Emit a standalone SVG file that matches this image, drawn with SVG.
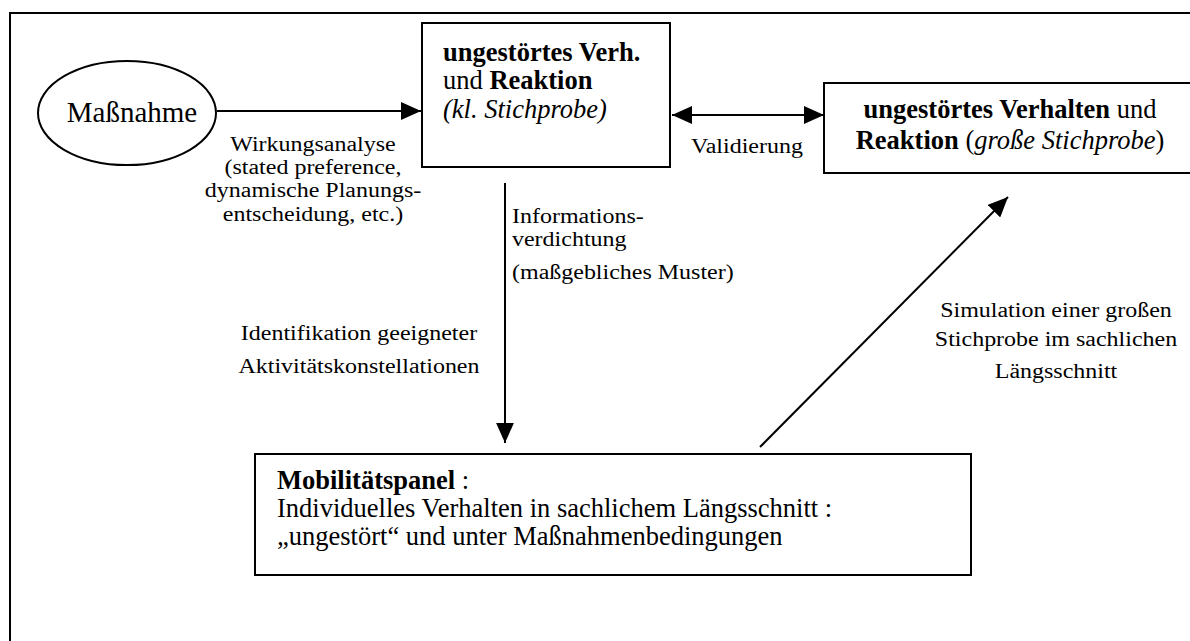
<svg xmlns="http://www.w3.org/2000/svg" width="1190" height="641" viewBox="0 0 1190 641">
<style>
text{font-family:"Liberation Serif","Times New Roman",serif;fill:#000}
.lbl{font-size:20.5px}
.box{font-size:26.5px}
.b{font-weight:bold}
.i{font-style:italic}
.shape{fill:#fff;stroke:#000;stroke-width:2}
.conn{stroke:#000;stroke-width:2;fill:none}
</style>
<defs>
<marker id="ah" markerUnits="userSpaceOnUse" markerWidth="20" markerHeight="18" refX="18" refY="8" orient="auto-start-reverse" viewBox="0 0 18 16">
<path d="M0,0 L18,8 L0,16 z" fill="#000"/>
</marker>
</defs>
<rect x="0" y="0" width="1190" height="641" fill="#fff"/>
<rect id="frame" x="10" y="13" width="1200" height="700" fill="none" stroke="#000" stroke-width="2"/>

<g id="connectors">
<line class="conn" x1="217" y1="111" x2="421" y2="111" marker-end="url(#ah)"/>
<line class="conn" x1="672" y1="115" x2="824" y2="115" marker-start="url(#ah)" marker-end="url(#ah)"/>
<line class="conn" x1="505" y1="183" x2="505" y2="443" marker-end="url(#ah)"/>
<line class="conn" x1="760" y1="447" x2="1008" y2="197" marker-end="url(#ah)"/>
</g>

<g id="node-massnahme">
<ellipse class="shape" cx="127" cy="113" rx="89" ry="52"/>
<text x="132" y="122" text-anchor="middle" style="font-size:29px">Maßnahme</text>
</g>

<g id="node-klein">
<rect class="shape" x="422" y="23" width="248" height="144"/>
<text class="box" x="443" y="61"><tspan class="b">ungestörtes Verh.</tspan></text>
<text class="box" x="443" y="89">und <tspan class="b">Reaktion</tspan></text>
<text class="box i" x="443" y="118">(kl. Stichprobe)</text>
</g>

<g id="node-gross">
<rect class="shape" x="824" y="83" width="400" height="90"/>
<text class="box" x="1010" y="118" text-anchor="middle"><tspan class="b">ungestörtes Verhalten</tspan> und</text>
<text class="box" x="1010" y="149" text-anchor="middle"><tspan class="b">Reaktion</tspan> (<tspan class="i">große Stichprobe</tspan>)</text>
</g>

<g id="node-panel">
<rect class="shape" x="255" y="454" width="716" height="121"/>
<text class="box" x="277" y="489"><tspan class="b">Mobilitätspanel</tspan> :</text>
<text class="box" x="277" y="517">Individuelles Verhalten in sachlichem Längsschnitt :</text>
<text class="box" x="277" y="545">„ungestört“ und unter Maßnahmenbedingungen</text>
</g>

<g id="labels">
<g transform="translate(313,0) scale(1.17,1)">
<text class="lbl" text-anchor="middle"><tspan x="0" y="151">Wirkungsanalyse</tspan><tspan x="0" y="174">(stated preference,</tspan><tspan x="0" y="197">dynamische Planungs-</tspan><tspan x="0" y="221">entscheidung, etc.)</tspan></text>
</g>
<g transform="translate(747,0) scale(1.17,1)">
<text class="lbl" x="0" y="153" text-anchor="middle">Validierung</text>
</g>
<g transform="translate(512,0) scale(1.17,1)">
<text class="lbl"><tspan x="0" y="223">Informations-</tspan><tspan x="0" y="246">verdichtung</tspan><tspan x="0" y="279">(maßgebliches Muster)</tspan></text>
</g>
<g transform="translate(359,0) scale(1.17,1)">
<text class="lbl" text-anchor="middle"><tspan x="0" y="340">Identifikation geeigneter</tspan><tspan x="0" y="373">Aktivitätskonstellationen</tspan></text>
</g>
<g transform="translate(1056,0) scale(1.17,1)">
<text class="lbl" text-anchor="middle"><tspan x="0" y="317">Simulation einer großen</tspan><tspan x="0" y="346">Stichprobe im sachlichen</tspan><tspan x="0" y="378">Längsschnitt</tspan></text>
</g>
</g>
</svg>
